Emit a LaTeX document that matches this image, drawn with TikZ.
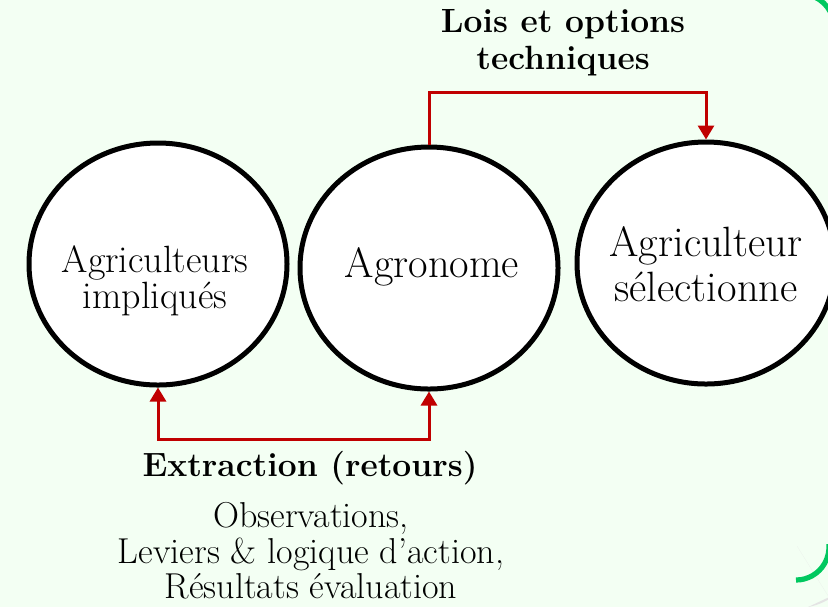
\documentclass[tikz,border=0pt]{standalone}
\usepackage{tikz}
\usetikzlibrary{arrows.meta}
\usetikzlibrary{shapes.geometric}
\definecolor{fondvert}{RGB}{243,255,243}
\definecolor{bordvert}{RGB}{0,200,95}
\definecolor{fleche}{RGB}{192,0,0}
\definecolor{ombre}{RGB}{228,228,228}

\begin{document}
\begin{tikzpicture}[x=0.5pt,y=-0.5pt,
	acteur/.style={ellipse, draw, line width=2.5pt, fill=white, minimum width=129pt, minimum height=121pt, inner sep=0pt},
	nom/.style={align=center, inner sep=0pt, font=\fontsize{19}{17}\selectfont},
	grandnom/.style={align=center, inner sep=0pt, font=\fontsize{21.2}{22.5}\selectfont},
	titre/.style={align=center, inner sep=0pt, font=\fontsize{16.8}{18.5}\selectfont\bfseries},
	texte/.style={align=center, inner sep=0pt, font=\fontsize{18}{17.8}\selectfont},
	lien/.style={draw=fleche, line width=1.5pt},
	bout/.tip={Triangle[width=8pt,length=7pt]}]
	
	\useasboundingbox (0,0) rectangle (828,607);
	\fill[fondvert] (0,0) rectangle (828,607);
	
	% coins du cadre
	\fill[ombre] (840,615) -- (797,546) ++(79.7:62) arc[start angle=79.7, end angle=50, radius=62] -- cycle;
	\draw[ombre, line width=3pt] (803,25) ++(-70:40) arc[start angle=-70, end angle=0, radius=40];
	\draw[bordvert, line width=2.6pt] (796,547) ++(90:33) arc[start angle=90, end angle=-5, radius=33];
	\draw[bordvert, line width=2.6pt] (801,27) ++(-75:33) arc[start angle=-75, end angle=0, radius=33];
	
	\node[acteur] (impl) at (158,264) {};
	\node[acteur] (agro) at (429,268) {};
	\node[acteur] (selec) at (706,263) {};
	
	\node[nom] (implt) at (155,281) {Agriculteurs\\impliqués};
	\node[grandnom] (agrot) at (432,267) {Agronome};
	\node[grandnom] (select) at (706,264) {Agriculteur\\sélectionne};
	
	\node[titre] (lois) at (563,43) {Lois et options\\techniques};
	\node[titre] (extr) at (310,468) {Extraction (retours)};
	\node[texte] (obs) at (311,551) {Observations,\\Leviers \& logique d’action,\\Résultats évaluation};
	
	\draw[lien, -{bout}] (agro.north) -- ++(0,-52) -| (selec.north);
	\draw[lien, {bout}-{bout}] (impl.south) -- ++(0,52) -| (agro.south);
	
\end{tikzpicture}
\end{document}
